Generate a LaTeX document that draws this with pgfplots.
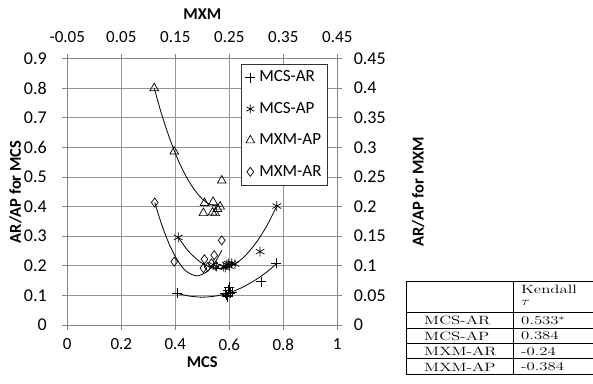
\documentclass[border=0pt]{standalone}
\usepackage{fontspec}
\setsansfont{Carlito}
\usepackage{graphicx}
\usepackage{pgfplots}
\pgfplotsset{compat=1.18}
\definecolor{axgray}{RGB}{134,134,134}
\definecolor{gridgray}{RGB}{150,150,150}
\newcommand{\tw}[1]{\scalebox{1.4}[1]{#1}}
\begin{document}
\begin{tikzpicture}[x=1pt,y=1pt]
\useasboundingbox (0,0) rectangle (593,-383);
\pgfplotsset{
  common/.style={
    at={(67.3pt,-325pt)}, anchor=south west,
    scale only axis, width=270pt, height=266.4pt,
    axis line style={draw=axgray, line width=0.8pt, -},
    tick align=outside, major tick length=5pt,
    tick style={draw=axgray, line width=0.8pt},
    scaled ticks=false,
    /pgf/number format/assume math mode=true,
    xticklabel style={font=\sffamily\fontsize{17}{17}\selectfont},
    yticklabel style={font=\sffamily\fontsize{18}{18}\selectfont},
    label style={font=\sffamily\bfseries\fontsize{16.5}{17}\selectfont},
  },
  trend/.style={black, line width=0.8pt, smooth, no marks, forget plot},
}
% ---------- primary axes: MCS ----------
\begin{axis}[common,
  xmin=0, xmax=1, ymin=0, ymax=0.9,
  axis x line*=bottom, axis y line*=left,
  xtick={0,0.2,0.4,0.6,0.8,1},
  ytick={0,0.1,0.2,0.3,0.4,0.5,0.6,0.7,0.8,0.9},
  xticklabel style={yshift=-5pt},
  yticklabel style={xshift=-12pt},
  grid=major, major grid style={draw=gridgray, line width=0.8pt},
  xlabel={MCS}, ylabel={AR/AP for MCS},
  xlabel style={at={(axis description cs:0.5,-0.14)}, anchor=center},
  ylabel style={at={(axis description cs:-0.192,0.5)}, anchor=center},
]
% MCS-AR
\addplot[only marks, mark=+, mark size=5pt, black, line width=0.7pt] coordinates {
 (0.407,0.107) (0.773,0.208) (0.717,0.146) (0.590,0.101) (0.596,0.118)
 (0.603,0.107) (0.584,0.107) (0.600,0.127) (0.593,0.096) (0.610,0.110)
};
\addplot[trend] coordinates {
 (0.407,0.107) (0.45,0.098) (0.50,0.094) (0.55,0.098) (0.60,0.109)
 (0.65,0.128) (0.70,0.154) (0.74,0.180) (0.776,0.208)
};
% MCS-AP
\addplot[only marks, mark=asterisk, mark size=5pt, black, line width=0.7pt] coordinates {
 (0.411,0.296) (0.776,0.402) (0.714,0.248) (0.541,0.203) (0.553,0.197)
 (0.578,0.197) (0.590,0.203) (0.596,0.208) (0.609,0.208) (0.621,0.206)
 (0.585,0.195) (0.600,0.199)
};
\addplot[trend] coordinates {
 (0.411,0.296) (0.45,0.248) (0.50,0.208) (0.55,0.191) (0.60,0.197)
 (0.65,0.226) (0.70,0.279) (0.74,0.337) (0.776,0.402)
};
\end{axis}
% ---------- secondary axes: MXM ----------
\begin{axis}[common,
  xmin=-0.05, xmax=0.45, ymin=0, ymax=0.45,
  axis x line*=top, axis y line*=right,
  xtick={-0.05,0.05,0.15,0.25,0.35,0.45},
  xticklabels={-0.05,0.05,0.15,0.25,0.35,0.45},
  ytick={0,0.05,0.1,0.15,0.2,0.25,0.3,0.35,0.4,0.45},
  yticklabels={0,0.05,0.1,0.15,0.2,0.25,0.3,0.35,0.4,0.45},
  xticklabel style={yshift=7pt},
  yticklabel style={xshift=8pt},
  xlabel={MXM}, ylabel={AR/AP for MXM},
  xlabel style={at={(axis description cs:0.5,1.165)}, anchor=center},
  ylabel style={at={(axis description cs:1.30,0.5)}, anchor=center, rotate=0},
  legend cell align=left,
  legend image code/.code={\draw[#1] plot coordinates {(0pt,0pt)};},
  legend style={at={(axis description cs:0.643,0.980)}, anchor=north west,
    draw=black!80, line width=0.8pt, fill=white,
    font=\sffamily\fontsize{17}{18}\selectfont,
    nodes={inner sep=2pt, text height=11.5pt, text depth=3pt},
    /tikz/every odd column/.append style={column sep=2pt},
    row sep=12.9pt, inner sep=4pt},
]
\addlegendimage{only marks, mark=+, mark size=5pt, black, line width=0.7pt}
\addlegendentry{MCS-AR}
\addlegendimage{only marks, mark=asterisk, mark size=4.5pt, black, line width=0.7pt}
\addlegendentry{MCS-AP}
% MXM-AP
\addplot[only marks, mark=triangle, mark size=5pt, black, line width=0.7pt] coordinates {
 (0.111,0.400) (0.148,0.293) (0.236,0.244) (0.204,0.206) (0.220,0.208)
 (0.233,0.200) (0.202,0.189) (0.219,0.190) (0.224,0.189) (0.228,0.196)
};
\addlegendentry{MXM-AP}
% MXM-AR
\addplot[only marks, mark=diamond, mark size=4.5pt, black, line width=0.7pt] coordinates {
 (0.112,0.207) (0.148,0.107) (0.236,0.143) (0.222,0.118) (0.204,0.111)
 (0.202,0.096) (0.217,0.104) (0.210,0.098) (0.225,0.100)
};
\addlegendentry{MXM-AR}
\addplot[trend] coordinates {
 (0.111,0.400) (0.125,0.355) (0.14,0.314) (0.155,0.279) (0.17,0.251)
 (0.185,0.229) (0.20,0.213) (0.215,0.203) (0.236,0.2005)
};
\addplot[trend] coordinates {
 (0.112,0.207) (0.125,0.169) (0.14,0.134) (0.155,0.108) (0.17,0.091)
 (0.19,0.083) (0.21,0.091) (0.225,0.108) (0.236,0.126)
};
\end{axis}
% ---------- Kendall tau table ----------
\begin{scope}[line width=0.9pt]
\draw (406,-281) -- (600,-281);
\draw (406,-312) -- (600,-312);
\draw (406,-328) -- (600,-328);
\draw (406,-343.5) -- (600,-343.5);
\draw (406,-358.7) -- (600,-358.7);
\draw (406,-374.5) -- (600,-374.5);
\draw (406,-281) -- (406,-374.5);
\draw (513,-281) -- (513,-374.5);
\end{scope}
\begin{scope}[every node/.style={anchor=west, inner sep=0pt, font=\rmfamily\fontsize{12}{14}\selectfont}]
\node at (521,-289) {\tw{Kendall}};
\node at (521,-302.5) {\tw{$\tau$}};
\node at (424,-320.5) {\tw{MCS-AR}};  \node at (521,-320.5) {\tw{0.533$^*$}};
\node at (424,-336) {\tw{MCS-AP}}; \node at (521,-336) {\tw{0.384}};
\node at (424,-351.3) {\tw{MXM-AR}}; \node at (521,-351.3) {\tw{-0.24}};
\node at (424,-366.8) {\tw{MXM-AP}}; \node at (521,-366.8) {\tw{-0.384}};
\end{scope}
\end{tikzpicture}
\end{document}
